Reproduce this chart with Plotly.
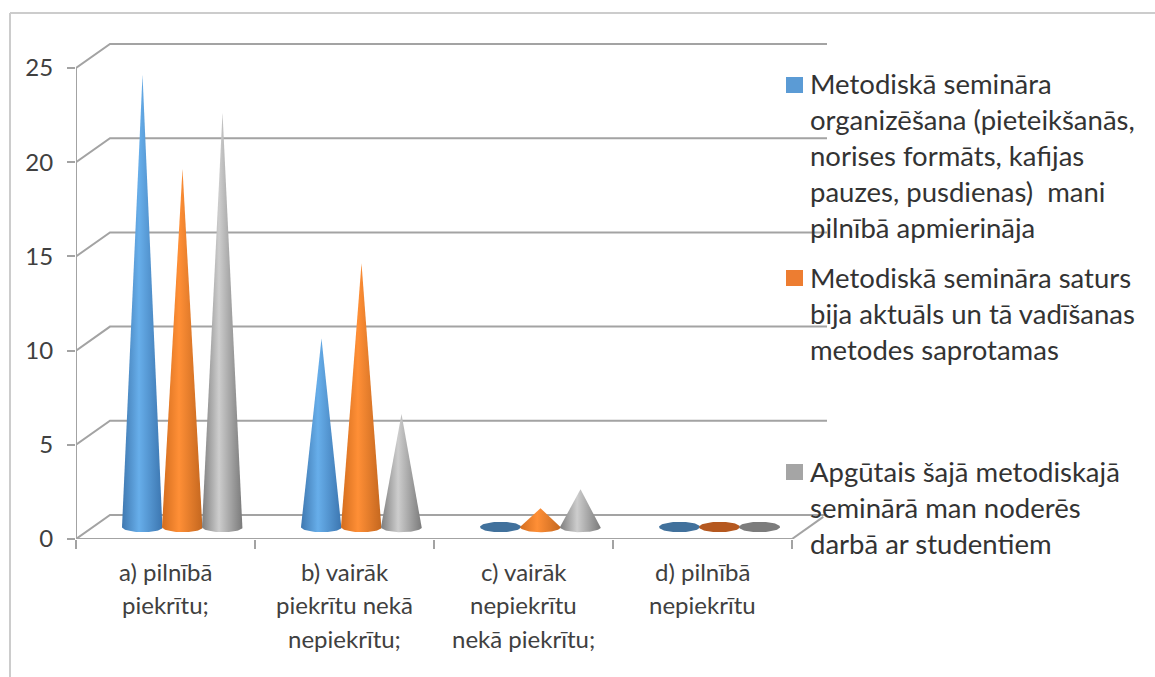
import numpy as np
import plotly.graph_objects as go

W, H = 1155, 677
categories = [
    ["a) pilnībā", "piekrītu;"],
    ["b) vairāk", "piekrītu nekā", "nepiekrītu;"],
    ["c) vairāk", "nepiekrītu", "nekā piekrītu;"],
    ["d) pilnībā", "nepiekrītu"],
]
series_organize = [24, 10, 0, 0]
series_content = [19, 14, 1, 0]
series_useful = [22, 6, 2, 0]
series_lines = [
    ["Metodiskā semināra", "organizēšana (pieteikšanās,", "norises formāts, kafijas",
     "pauzes, pusdienas)  mani", "pilnībā apmierināja"],
    ["Metodiskā semināra saturs", "bija aktuāls un tā vadīšanas", "metodes saprotamas"],
    ["Apgūtais šajā metodiskajā", "seminārā man noderēs", "darbā ar studentiem"],
]
y_ticks = [0, 5, 10, 15, 20, 25]

FONT = "Lato"
TXT = "#404040"
GRID = "#a3a3a3"
PX_X = 179.0        # pixels per category
PX_Y = 18.84        # pixels per value unit
X0, X1, Y0, YTOP = 76, 827, 539, 38
DX, DY = 34 / PX_X, 24 / PX_Y        # depth offset of the back wall
HALF_W, GAP, ELL = 20.5 / PX_X, 40 / PX_X, 5.2 / PX_Y

STYLES = [
    (series_organize, "#3f78b0", "#67aeea", "#3c76b0", "#41719c", "#5b9bd5"),
    (series_content, "#d36d1e", "#ff8f36", "#c4671f", "#b5581f", "#ed7d31"),
    (series_useful, "#7e7e7e", "#cdcdcd", "#7a7a7a", "#7c7c7c", "#a5a5a5"),
]

fig = go.Figure()

# 3D frame: walls and floor
wx, wy = [], []
for t in y_ticks:
    wx += [0, DX, (X1 - X0) / PX_X, None]
    wy += [t, t + DY, t + DY, None]
wx += [4, 4 + DX * 0.92, None, 0, 0, None, 0, 4]
wy += [0, DY * 0.92, None, 0, y_ticks[-1], None, 0, 0]
fig.add_trace(go.Scatter(x=wx, y=wy, mode="lines", line=dict(color=GRID, width=2),
                         hoverinfo="skip", cliponaxis=False, showlegend=False))

# Cones
theta_low = np.linspace(0, np.pi, 41)
theta_full = np.linspace(0, 2 * np.pi, 81)
for s, (vals, c1, c2, c3, disc, _) in enumerate(STYLES):
    for i, v in enumerate(vals):
        cx = i + 0.5 + DX / 2 + (s - 1) * GAP
        base = DY / 2
        if v > 0:
            xs = np.r_[cx, cx + HALF_W * np.cos(theta_low), cx]
            ys = np.r_[base + v, base - ELL * np.sin(theta_low), base + v]
            fig.add_trace(go.Scatter(
                x=xs, y=ys, mode="lines", fill="toself", line=dict(width=0),
                fillcolor=c2, hoverinfo="skip", showlegend=False, cliponaxis=False,
                fillgradient=dict(type="horizontal",
                                  colorscale=[[0, c1], [0.42, c2], [1, c3]])))
        else:
            xs = cx + HALF_W * np.cos(theta_full)
            ys = base + ELL * np.sin(theta_full)
            fig.add_trace(go.Scatter(
                x=xs, y=ys, mode="lines", fill="toself", line=dict(width=0),
                fillcolor=disc, hoverinfo="skip", showlegend=False, cliponaxis=False))

ann = []
shapes = []
def px_text(text, px, py, anchor, size, color=TXT):
    ann.append(dict(text=text, x=px / W, y=1 - py / H, xref="paper", yref="paper",
                    xanchor=anchor, yanchor="middle", showarrow=False,
                    font=dict(family=FONT, size=size, color=color)))

# Category labels (one annotation per line for the original leading)
for i, lines in enumerate(categories):
    for j, line in enumerate(lines):
        px_text(line, X0 + (i + 0.5) * PX_X, 571 + j * 33.5, "center", 24)

# Legend
legend_y = [85, 278, 472]
text_shift = [-2, -1, -1]
for k, lines in enumerate(series_lines):
    for j, line in enumerate(lines):
        px_text(line, 808, legend_y[k] + text_shift[k] + j * 36.2, "left", 27.5, "#333333")
    shapes.append(dict(type="rect", xref="paper", yref="paper", line=dict(width=0),
                       fillcolor=STYLES[k][5],
                       x0=786 / W, x1=803 / W,
                       y0=1 - (legend_y[k] - 8) / H, y1=1 - (legend_y[k] + 8) / H))

# Outer picture frame
shapes.append(dict(type="line", xref="paper", yref="paper", x0=10 / W, x1=10 / W,
                   y0=0, y1=1 - 13 / H, line=dict(color="#cccccc", width=2)))
shapes.append(dict(type="line", xref="paper", yref="paper", x0=10 / W, x1=1,
                   y0=1 - 13 / H, y1=1 - 13 / H, line=dict(color="#cccccc", width=2)))

fig.update_layout(
    width=W, height=H, margin=dict(l=0, r=0, t=0, b=0),
    paper_bgcolor="white", plot_bgcolor="rgba(0,0,0,0)", showlegend=False,
    annotations=ann, shapes=shapes,
    xaxis=dict(domain=[X0 / W, X1 / W], range=[0, (X1 - X0) / PX_X], automargin=False,
               tickvals=[0, 1, 2, 3, 4], showticklabels=False, ticks="outside",
               ticklen=9, tickcolor=GRID, tickwidth=1.5, showgrid=False, zeroline=False,
               showline=False),
    yaxis=dict(domain=[1 - Y0 / H, 1 - YTOP / H], range=[0, (Y0 - YTOP) / PX_Y], automargin=False,
               tickvals=y_ticks, ticks="outside", ticklen=8, tickcolor=GRID, tickwidth=1.5,
               showgrid=False, zeroline=False, showline=False, ticklabelstandoff=9,
               tickfont=dict(family=FONT, size=24, color=TXT)),
)
fig.write_html("out.html", config=dict(displayModeBar=False),
               post_script="document.body.style.margin='0';document.body.style.overflow='hidden';")
